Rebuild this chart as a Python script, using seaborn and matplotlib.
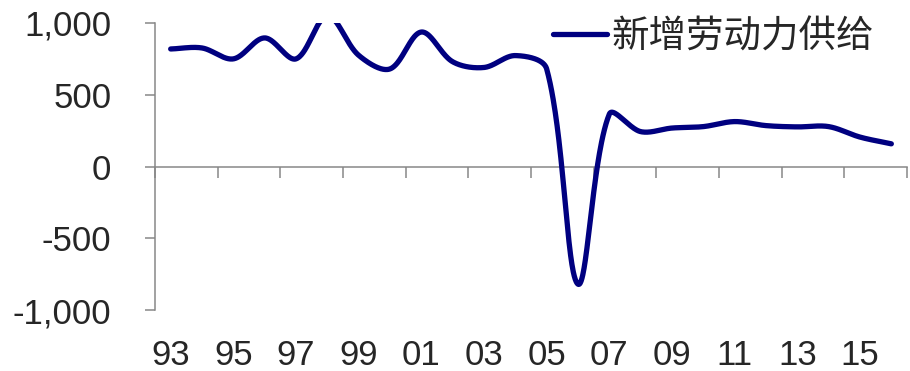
import numpy as np
import pandas as pd
import matplotlib
matplotlib.use("Agg")
import matplotlib.pyplot as plt
import seaborn as sns
from matplotlib.ticker import FuncFormatter, FixedLocator

# Annual new labour supply (10k persons), 1993-2016
years = list(range(1993, 2017))
supply = [819, 826, 750, 896, 750, 1050, 775, 680, 937, 730, 690, 773, 680,
          -820, 365, 243, 268, 278, 313, 285, 276, 278, 205, 158]
series_name = "新增劳动力供给"
tick_labels = [f"{y % 100:02d}" for y in years[::2]]
y_ticks = [-1000, -500, 0, 500, 1000]

NAVY = "#000080"
GREY = "#878787"

sns.set_style("white")
plt.rcParams["font.family"] = ["Liberation Sans", "DejaVu Sans"]

fig = plt.figure(figsize=(9.10, 3.71), dpi=100)
ax = fig.add_axes([155 / 910, 61 / 371, 752 / 910, 287 / 371])

x_idx = np.arange(len(years), dtype=float)
ax.set_xlim(-0.5, len(years) - 0.5)
ax.set_ylim(-1000, 1000)


def smooth_curve(xs, ys, sx, sy, n=60):
    """Bezier smoothing of a polyline, control points scaled by segment length."""
    P = np.column_stack([np.asarray(xs) * sx, np.asarray(ys) * sy])
    N = len(P)
    out = []
    t = np.linspace(0, 1, n)[:, None]
    for i in range(N - 1):
        p0 = P[i - 1] if i > 0 else P[i]
        p1, p2 = P[i], P[i + 1]
        p3 = P[i + 2] if i + 2 < N else P[i + 1]
        d01 = np.linalg.norm(p1 - p0)
        d12 = np.linalg.norm(p2 - p1)
        d23 = np.linalg.norm(p3 - p2)
        c1 = p1 + (p2 - p0) / 3 * d12 / (d01 + d12)
        c2 = p2 - (p3 - p1) / 3 * d12 / (d12 + d23)
        seg = ((1 - t) ** 3) * p1 + 3 * ((1 - t) ** 2) * t * c1 \
            + 3 * (1 - t) * t ** 2 * c2 + t ** 3 * p2
        out.append(seg if i == 0 else seg[1:])
    pts = np.vstack(out)
    return pts[:, 0] / sx, pts[:, 1] / sy


# pixel scale of one category and one unit
sx = 752 / len(years)
sy = 287 / 2000
cx, cy = smooth_curve(x_idx, supply, sx, sy)
curve = pd.DataFrame({"x": cx, "y": cy})

sns.lineplot(data=curve, x="x", y="y", sort=False, estimator=None,
             color=NAVY, linewidth=3.8, ax=ax, label=series_name, zorder=5)

# spines: left full height, horizontal axis at zero
for s in ("top", "right"):
    ax.spines[s].set_visible(False)
ax.spines["left"].set_color(GREY)
ax.spines["left"].set_linewidth(1.1)
ax.spines["bottom"].set_position(("data", 0))
ax.spines["bottom"].set_color(GREY)
ax.spines["bottom"].set_linewidth(1.1)
ax.spines["bottom"].set_zorder(2)

ax.set_xlabel("")
ax.set_ylabel("")

# y axis
ax.yaxis.set_major_locator(FixedLocator(y_ticks))
ax.yaxis.set_major_formatter(FuncFormatter(lambda v, p: f"{int(v):,}"))
ax.tick_params(axis="y", direction="out", length=7.5, width=1.1,
               color=GREY, labelsize=25, pad=24, left=True)

# tick marks on the zero line at category boundaries
ax.xaxis.set_major_locator(FixedLocator(np.arange(-0.5, len(years), 2)))
ax.tick_params(axis="x", direction="out", length=8, width=1.1, color=GREY,
               labelbottom=False, bottom=True)

# year labels below the plotting area
sec = ax.secondary_xaxis("bottom")
sec.set_xticks(x_idx[::2])
sec.set_xticklabels(tick_labels)
sec.spines["bottom"].set_visible(False)
sec.tick_params(axis="x", length=0, labelsize=25, pad=21)

handles, labels = ax.get_legend_handles_labels()
ax.legend(handles, labels, loc="center left",
          bbox_to_anchor=(553 / 910, 1 - 37 / 371), bbox_transform=fig.transFigure,
          frameon=False, borderpad=0, borderaxespad=0,
          handlelength=1.45, handletextpad=0.12,
          prop={"family": ["Noto Sans CJK SC"], "size": 27})

fig.savefig("out.png", dpi=100)
